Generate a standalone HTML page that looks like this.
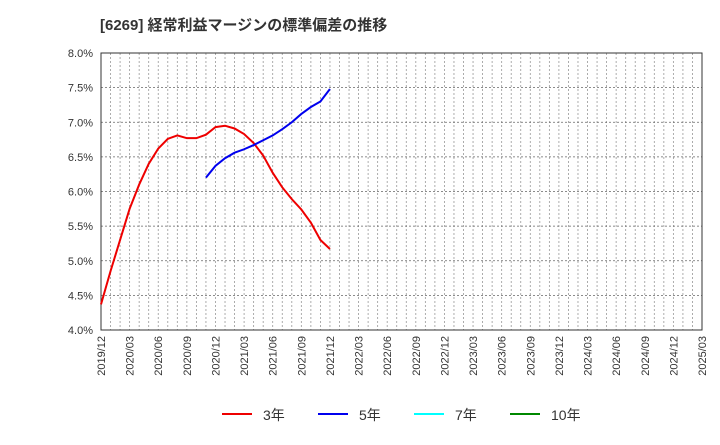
<!DOCTYPE html>
<html><head><meta charset="utf-8"><style>
body{margin:0;background:#fff;font-family:"Liberation Sans","Noto Sans CJK JP",sans-serif}
</style></head><body>
<svg id="chart" width="720" height="440" xmlns="http://www.w3.org/2000/svg">
<text x="100" y="30" font-size="15" font-weight="bold" fill="#333">[6269]  経常利益マージンの標準偏差の推移</text>
<g id="grid"></g><g id="axes"></g><g id="series"></g>
<g>
<line x1="222" y1="414" x2="252" y2="414" stroke="#e00" stroke-width="2"/><text x="263" y="420" font-size="14" fill="#333">3年</text>
<line x1="318" y1="414" x2="348" y2="414" stroke="#00e" stroke-width="2"/><text x="359" y="420" font-size="14" fill="#333">5年</text>
<line x1="414" y1="414" x2="444" y2="414" stroke="#0ff" stroke-width="2"/><text x="455" y="420" font-size="14" fill="#333">7年</text>
<line x1="510" y1="414" x2="540" y2="414" stroke="#080" stroke-width="2"/><text x="551" y="420" font-size="14" fill="#333">10年</text>
</g>
</svg>
<script>
const yTicks=[4.0,4.5,5.0,5.5,6.0,6.5,7.0,7.5,8.0];
const xLabels=["2019/12","2020/03","2020/06","2020/09","2020/12","2021/03","2021/06","2021/09","2021/12","2022/03","2022/06","2022/09","2022/12","2023/03","2023/06","2023/09","2023/12","2024/03","2024/06","2024/09","2024/12","2025/03"];
const s3=[4.37,4.85,5.3,5.75,6.1,6.4,6.62,6.76,6.81,6.77,6.77,6.82,6.93,6.95,6.91,6.83,6.7,6.52,6.27,6.06,5.89,5.74,5.55,5.3,5.17];
const s3Start=0;
const s5=[6.2,6.37,6.48,6.56,6.61,6.67,6.74,6.81,6.9,7.0,7.12,7.22,7.3,7.48];
const s5Start=11;
const X0=101,X1=702,Y0=330,Y1=53;
const nMonths=(xLabels.length-1)*3;
const xs=m=>X0+(X1-X0)*m/nMonths;
const ys=v=>Y0-(v-4)/(8-4)*(Y0-Y1);
const NS="http://www.w3.org/2000/svg";
const g=document.getElementById('grid'),ax=document.getElementById('axes'),se=document.getElementById('series');
function mk(t,a,p){const e=document.createElementNS(NS,t);for(const k in a)e.setAttribute(k,a[k]);p.appendChild(e);return e;}
for(let m=1;m<nMonths;m++){const l=mk('line',{x1:xs(m),x2:xs(m),y1:Y1,y2:Y0,stroke:'#999','stroke-dasharray':'2,2','stroke-width':0.8},g);

}
yTicks.forEach(v=>{const l=mk('line',{x1:X0,x2:X1,y1:ys(v),y2:ys(v),stroke:'#666','stroke-dasharray':'2,2','stroke-width':0.8},g);


const t=mk('text',{x:X0-8,y:ys(v)+4,'text-anchor':'end','font-size':11,fill:'#333'},ax);t.textContent=v.toFixed(1)+'%';

});
const r=mk('rect',{x:X0,y:Y1,width:X1-X0,height:Y0-Y1,fill:'none',stroke:'#333','stroke-width':1},ax);


xLabels.forEach((s,i)=>{const x=xs(i*3);const t=mk('text',{x:x+4,y:Y0+6,'text-anchor':'end','font-size':11,fill:'#333',transform:`rotate(-90 ${x+4} ${Y0+6})`},ax);t.textContent=s;

});
function line(arr,start,col,name){const p=mk('polyline',{points:arr.map((v,i)=>xs(start+i)+','+ys(v)).join(' '),fill:'none',stroke:col,'stroke-width':2},se);

}
line(s3,s3Start,'#e00','series-3y');
line(s5,s5Start,'#00e','series-5y');
</script>
</body></html>
